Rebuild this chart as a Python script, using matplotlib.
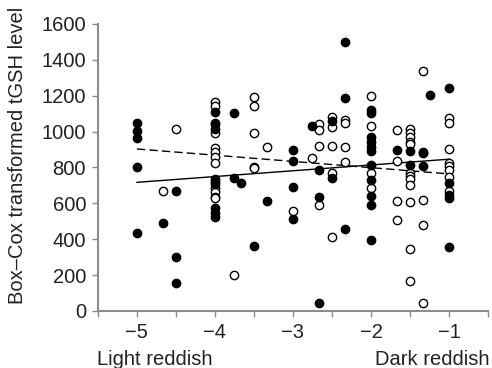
import numpy as np
import matplotlib.pyplot as plt

plt.rcParams["font.family"] = ["Liberation Sans", "DejaVu Sans"]

# Filled circles (x = colour score, y = Box-Cox tGSH)
filled_x = ([-5] * 5 + [-4.67] + [-4.5] * 3 + [-4] * 9 + [-3.75] * 2 + [-3.67] + [-3.5]
            + [-3.33] + [-3] * 4 + [-2.75] + [-2.67] * 3 + [-2.5] * 2 + [-2.33] * 3
            + [-2] * 11 + [-1.67] + [-1.5] * 2 + [-1.33] * 3 + [-1.25] + [-1] * 5)
filled_y = [1046, 1003, 966, 804, 433,
            492,
            669, 301, 154,
            1111, 1040, 1012, 734, 720, 705, 574, 546, 526,
            1106, 740,
            712,
            362,
            615,
            897, 838, 689, 513,
            1031,
            783, 634, 47,
            1059, 739,
            1499, 1186, 459,
            1120, 1102, 972, 944, 916, 894, 816, 730, 643, 591, 396,
            898,
            894, 816,
            888, 878, 810,
            1202,
            1245, 715, 647, 632, 359]

# Open circles
open_x = ([-4.67] + [-4.5] + [-4] * 12 + [-3.75] + [-3.5] * 5 + [-3.33] + [-3]
          + [-2.75] + [-2.67] * 4 + [-2.5] * 5 + [-2.33] * 4 + [-2] * 4
          + [-1.67] * 4 + [-1.5] * 12 + [-1.33] * 4 + [-1] * 8)
open_y = [669,
          1016,
          1167, 1145, 1046, 990, 907, 885, 860, 823, 684, 665, 637, 628,
          200,
          1195, 1143, 990, 803, 795,
          913,
          557,
          851,
          1042, 1008, 919, 591,
          1081, 1025, 919, 770, 411,
          1063, 1046, 915, 832,
          1200, 1031, 768, 684,
          1009, 836, 615, 506,
          1013, 991, 968, 944, 931, 771, 754, 734, 704, 606, 346, 167,
          1336, 619, 479, 46,
          1074, 1046, 903, 827, 808, 786, 745, 671]

# Regression lines
line_x = [-5, -1]
line_filled_y = [717, 846]
line_open_y = [903, 764]

FS = 14.5
TXT = "#222222"

fig = plt.figure(figsize=(4.92, 3.68), dpi=100)
ax = fig.add_axes([0.199, 0.155, 0.793, 0.78])

ax.plot(line_x, line_filled_y, color="black", lw=1.0, zorder=2)
ax.plot(line_x, line_open_y, color="black", lw=1.0, dashes=(6, 3), zorder=2)

ax.scatter(open_x, open_y, s=36, facecolor="white", edgecolor="black",
           linewidth=1.0, zorder=3, clip_on=False)
ax.scatter(filled_x, filled_y, s=36, facecolor="black", edgecolor="black",
           linewidth=1.0, zorder=4, clip_on=False)

ax.set_xlim(-5.5, -0.5)
ax.set_ylim(0, 1600)
xt = np.arange(-5.5, -0.49, 0.5)
ax.set_xticks(xt)
ax.set_xticklabels(["\u2212%d" % -v if v == int(v) else "" for v in xt])
ax.set_yticks(np.arange(0, 1601, 200))

for s in ["top", "right"]:
    ax.spines[s].set_visible(False)
for s in ["left", "bottom"]:
    ax.spines[s].set_color("#8c8c8c")
    ax.spines[s].set_linewidth(1.5)
ax.tick_params(colors="#8c8c8c", labelcolor=TXT, length=4.5, width=1,
               labelsize=FS)
ax.tick_params(axis="x", pad=4)
ax.tick_params(axis="y", pad=4)

ax.set_ylabel("Box\u2013Cox transformed tGSH level", fontsize=FS, color=TXT)
ax.yaxis.set_label_coords(-0.182, 0.543)
fig.text(0.198, 0.009, "Light reddish", fontsize=FS, color=TXT, ha="left",
         va="baseline")
fig.text(0.995, 0.009, "Dark reddish", fontsize=FS, color=TXT, ha="right",
         va="baseline")

fig.savefig("out.png", dpi=100)
